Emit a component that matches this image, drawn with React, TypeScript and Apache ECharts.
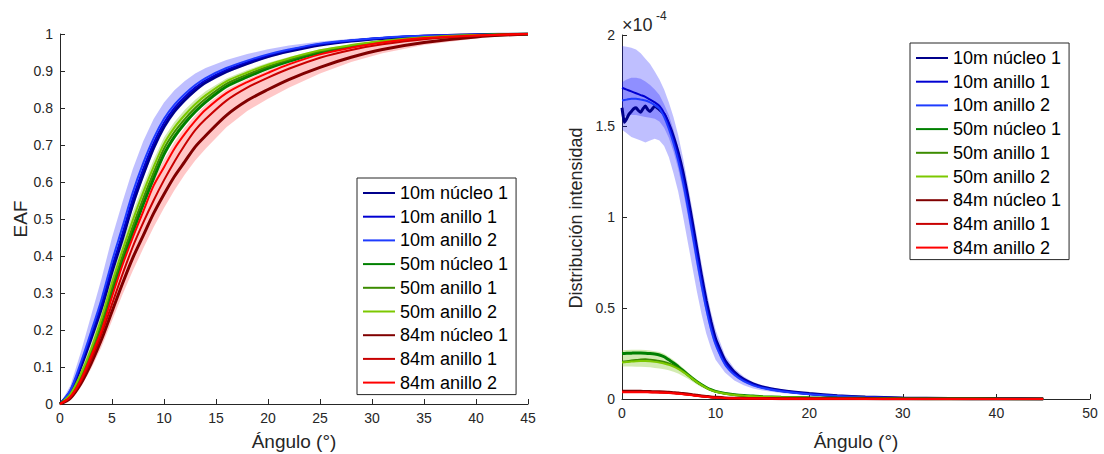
import React, { useEffect, useRef } from "react";
import * as echarts from "echarts";

// ---------- shared ----------
const NAMES = [
  "10m núcleo 1", "10m anillo 1", "10m anillo 2",
  "50m núcleo 1", "50m anillo 1", "50m anillo 2",
  "84m núcleo 1", "84m anillo 1", "84m anillo 2",
];
const COLORS = ["#00008B", "#0000D2", "#1E3CFF", "#008000", "#3C8C00", "#7CC800", "#800000", "#C80000", "#FF0000"];
const WIDTHS = [3, 2, 2, 3, 2, 2, 3, 2, 2];

// ---------- left chart: EAF ----------
const EAF_X_TICKS = [0, 45, 5];
const EAF_Y_TICKS = [0, 1, 0.1];
const EAF_ANGLES = [0, 1, 2, 3, 4, 5, 6, 7, 8, 9, 10, 11, 12, 13, 14, 16, 18, 20, 22, 25, 28, 31, 35, 40, 45];
const EAF_10N1 = [0, 0.033, 0.1, 0.177, 0.26, 0.357, 0.446, 0.54, 0.62, 0.692, 0.749, 0.791, 0.822, 0.848, 0.869, 0.898, 0.92, 0.939, 0.953, 0.97, 0.981, 0.988, 0.994, 0.998, 1];
const EAF_10A1 = [0, 0.035, 0.105, 0.185, 0.27, 0.37, 0.46, 0.555, 0.635, 0.705, 0.76, 0.8, 0.83, 0.855, 0.875, 0.903, 0.924, 0.942, 0.956, 0.972, 0.982, 0.989, 0.995, 0.998, 1];
const EAF_10A2 = [0, 0.038, 0.112, 0.196, 0.284, 0.386, 0.478, 0.572, 0.651, 0.718, 0.771, 0.809, 0.838, 0.862, 0.881, 0.908, 0.928, 0.945, 0.958, 0.974, 0.983, 0.99, 0.995, 0.998, 1];
const EAF_50N1 = [0, 0.023, 0.07, 0.132, 0.209, 0.3, 0.388, 0.465, 0.54, 0.61, 0.675, 0.722, 0.759, 0.79, 0.816, 0.858, 0.884, 0.907, 0.926, 0.95, 0.966, 0.979, 0.989, 0.996, 1];
const EAF_50A1 = [0, 0.025, 0.075, 0.14, 0.22, 0.315, 0.4, 0.48, 0.555, 0.625, 0.69, 0.735, 0.77, 0.8, 0.825, 0.865, 0.89, 0.912, 0.93, 0.953, 0.968, 0.98, 0.99, 0.996, 1];
const EAF_50A2 = [0, 0.027, 0.081, 0.15, 0.233, 0.328, 0.415, 0.497, 0.572, 0.641, 0.703, 0.747, 0.781, 0.81, 0.834, 0.872, 0.896, 0.917, 0.934, 0.956, 0.97, 0.981, 0.991, 0.997, 1];
const EAF_84N1 = [0, 0.016, 0.055, 0.11, 0.175, 0.25, 0.325, 0.395, 0.455, 0.515, 0.567, 0.615, 0.655, 0.695, 0.725, 0.78, 0.82, 0.85, 0.877, 0.91, 0.937, 0.958, 0.977, 0.992, 1];
const EAF_84A1 = [0, 0.018, 0.06, 0.12, 0.19, 0.27, 0.35, 0.425, 0.49, 0.55, 0.605, 0.655, 0.7, 0.74, 0.77, 0.82, 0.855, 0.882, 0.906, 0.936, 0.957, 0.972, 0.986, 0.995, 1];
const EAF_84A2 = [0, 0.02, 0.065, 0.13, 0.2, 0.29, 0.375, 0.45, 0.52, 0.59, 0.64, 0.69, 0.73, 0.765, 0.795, 0.84, 0.87, 0.895, 0.918, 0.945, 0.963, 0.977, 0.989, 0.996, 1];
// shaded bands
const EAF_10_UP = [0, 0.05, 0.14, 0.24, 0.34, 0.45, 0.545, 0.635, 0.71, 0.77, 0.815, 0.848, 0.873, 0.893, 0.908, 0.93, 0.946, 0.959, 0.969, 0.98, 0.987, 0.992, 0.996, 0.999, 1];
const EAF_10_LO = [0, 0.03, 0.095, 0.17, 0.252, 0.348, 0.437, 0.53, 0.61, 0.683, 0.741, 0.784, 0.816, 0.843, 0.864, 0.894, 0.917, 0.936, 0.951, 0.968, 0.979, 0.987, 0.993, 0.997, 1];
const EAF_50_UP = [0, 0.03, 0.09, 0.163, 0.25, 0.345, 0.435, 0.518, 0.592, 0.66, 0.72, 0.762, 0.795, 0.822, 0.845, 0.88, 0.903, 0.922, 0.938, 0.959, 0.972, 0.983, 0.992, 0.997, 1];
const EAF_50_LO = [0, 0.022, 0.068, 0.128, 0.203, 0.293, 0.381, 0.458, 0.533, 0.603, 0.668, 0.716, 0.753, 0.785, 0.811, 0.853, 0.88, 0.904, 0.923, 0.948, 0.965, 0.978, 0.989, 0.996, 1];
const EAF_84_UP = [0, 0.024, 0.075, 0.145, 0.22, 0.31, 0.395, 0.47, 0.54, 0.608, 0.66, 0.708, 0.747, 0.78, 0.808, 0.85, 0.878, 0.902, 0.923, 0.948, 0.965, 0.978, 0.989, 0.996, 1];
const EAF_84_LO = [0, 0.012, 0.045, 0.095, 0.155, 0.225, 0.295, 0.36, 0.42, 0.478, 0.53, 0.578, 0.62, 0.658, 0.69, 0.748, 0.792, 0.825, 0.855, 0.893, 0.924, 0.948, 0.97, 0.988, 1];

// ---------- right chart: intensity distribution (x 1e-4) ----------
const INT_X_TICKS = [0, 50, 10];
const INT_Y_TICKS = [0, 2, 0.5];
const INT_ANGLES = [0, 0.5, 1, 1.5, 2, 2.5, 3, 3.5, 4, 4.5, 5, 5.5, 6, 6.5, 7, 7.5, 8, 8.5, 9, 9.5, 10, 11, 12, 13, 14, 15, 17, 20, 23, 26, 30, 35, 40, 45];
const INT_N1_ANGLES = [0, 0.25, 0.5, 0.75, 1, 1.25, 1.5, 1.75, 2, 2.25, 2.5, 2.75, 3, 3.25, 3.5, 3.75, 4, 4.5, 5, 5.5, 6, 6.5, 7, 7.5, 8, 8.5, 9, 9.5, 10, 11, 12, 13, 14, 15, 17, 20, 23, 26, 30, 35, 40, 45];
const INT_10N1 = [1.6, 1.52, 1.54, 1.565, 1.58, 1.595, 1.6, 1.585, 1.575, 1.595, 1.61, 1.59, 1.58, 1.595, 1.61, 1.6, 1.59, 1.565, 1.51, 1.44, 1.355, 1.25, 1.12, 0.975, 0.825, 0.675, 0.54, 0.425, 0.33, 0.212, 0.148, 0.108, 0.083, 0.066, 0.047, 0.03, 0.018, 0.011, 0.0055, 0.0025, 0.0012, 0.0006];
const INT_10A1 = [1.71, 1.7, 1.69, 1.68, 1.67, 1.66, 1.645, 1.63, 1.61, 1.57, 1.51, 1.43, 1.34, 1.23, 1.1, 0.955, 0.805, 0.66, 0.525, 0.41, 0.32, 0.205, 0.143, 0.105, 0.08, 0.064, 0.045, 0.028, 0.017, 0.01, 0.005, 0.002, 0.001, 0.0005];
const INT_10A2 = [1.64, 1.645, 1.65, 1.65, 1.645, 1.64, 1.63, 1.615, 1.595, 1.55, 1.485, 1.405, 1.31, 1.195, 1.06, 0.915, 0.765, 0.625, 0.495, 0.385, 0.3, 0.19, 0.133, 0.098, 0.075, 0.06, 0.042, 0.026, 0.016, 0.009, 0.0045, 0.002, 0.001, 0.0005];
const INT_50N1 = [0.25, 0.251, 0.252, 0.253, 0.253, 0.252, 0.25, 0.247, 0.242, 0.232, 0.215, 0.198, 0.178, 0.157, 0.135, 0.114, 0.095, 0.078, 0.063, 0.051, 0.042, 0.031, 0.024, 0.019, 0.016, 0.013, 0.01, 0.007, 0.005, 0.0035, 0.0022, 0.0012, 0.0007, 0.0004];
const INT_50A1 = [0.205, 0.208, 0.211, 0.214, 0.217, 0.218, 0.216, 0.213, 0.209, 0.203, 0.195, 0.184, 0.17, 0.153, 0.134, 0.114, 0.094, 0.077, 0.062, 0.05, 0.041, 0.03, 0.023, 0.018, 0.015, 0.013, 0.01, 0.007, 0.005, 0.0035, 0.0022, 0.0012, 0.0007, 0.0004];
const INT_50A2 = [0.2, 0.203, 0.206, 0.208, 0.209, 0.209, 0.207, 0.204, 0.2, 0.195, 0.188, 0.178, 0.165, 0.149, 0.131, 0.112, 0.093, 0.076, 0.061, 0.049, 0.04, 0.029, 0.022, 0.018, 0.015, 0.012, 0.009, 0.0065, 0.0045, 0.003, 0.002, 0.001, 0.0006, 0.0003];
const INT_84N1 = [0.042, 0.042, 0.042, 0.042, 0.042, 0.041, 0.041, 0.04, 0.04, 0.039, 0.037, 0.035, 0.033, 0.03, 0.027, 0.024, 0.02, 0.017, 0.014, 0.011, 0.009, 0.006, 0.0045, 0.0037, 0.003, 0.0026, 0.002, 0.0015, 0.0011, 0.0008, 0.0005, 0.0003, 0.0002, 0.0001];
const INT_84A1 = [0.039, 0.039, 0.039, 0.039, 0.039, 0.039, 0.038, 0.038, 0.037, 0.036, 0.035, 0.033, 0.031, 0.028, 0.025, 0.022, 0.019, 0.016, 0.013, 0.01, 0.008, 0.0055, 0.0042, 0.0034, 0.0028, 0.0024, 0.0018, 0.0013, 0.001, 0.0007, 0.0005, 0.0003, 0.0002, 0.0001];
const INT_84A2 = [0.037, 0.037, 0.037, 0.037, 0.037, 0.037, 0.036, 0.036, 0.035, 0.034, 0.033, 0.031, 0.029, 0.026, 0.023, 0.02, 0.017, 0.014, 0.012, 0.0095, 0.0075, 0.0052, 0.004, 0.0032, 0.0027, 0.0023, 0.0017, 0.0012, 0.0009, 0.0006, 0.0004, 0.0003, 0.0002, 0.0001];
// shaded bands
const INT_10N_UP = [1.94, 1.935, 1.93, 1.92, 1.9, 1.87, 1.84, 1.8, 1.755, 1.7, 1.63, 1.55, 1.45, 1.33, 1.19, 1.045, 0.895, 0.745, 0.605, 0.48, 0.38, 0.24, 0.168, 0.123, 0.094, 0.075, 0.053, 0.034, 0.021, 0.013, 0.0065, 0.003, 0.0015, 0.001];
const INT_10N_LO = [1.48, 1.46, 1.44, 1.43, 1.42, 1.41, 1.42, 1.43, 1.42, 1.39, 1.33, 1.24, 1.14, 1.01, 0.87, 0.73, 0.59, 0.465, 0.36, 0.28, 0.215, 0.145, 0.102, 0.076, 0.058, 0.047, 0.033, 0.02, 0.012, 0.007, 0.003, 0.001, 0.0005, 0];
const INT_10A_UP = [1.74, 1.755, 1.765, 1.765, 1.76, 1.745, 1.725, 1.7, 1.67, 1.62, 1.56, 1.48, 1.385, 1.265, 1.13, 0.985, 0.835, 0.69, 0.555, 0.435, 0.34, 0.218, 0.152, 0.112, 0.085, 0.068, 0.048, 0.03, 0.018, 0.011, 0.0055, 0.0025, 0.0012, 0.0006];
const INT_10A_LO = [1.55, 1.555, 1.56, 1.56, 1.555, 1.55, 1.545, 1.54, 1.525, 1.49, 1.435, 1.36, 1.265, 1.15, 1.015, 0.87, 0.725, 0.59, 0.47, 0.365, 0.283, 0.18, 0.125, 0.092, 0.07, 0.056, 0.039, 0.024, 0.014, 0.008, 0.004, 0.0018, 0.0009, 0.0004];
const INT_50_UP = [0.268, 0.269, 0.27, 0.27, 0.27, 0.269, 0.267, 0.263, 0.258, 0.248, 0.232, 0.214, 0.194, 0.172, 0.149, 0.127, 0.106, 0.087, 0.071, 0.057, 0.046, 0.034, 0.026, 0.021, 0.017, 0.014, 0.011, 0.008, 0.0055, 0.004, 0.0025, 0.0014, 0.0008, 0.0004];
const INT_50_LO = [0.178, 0.178, 0.178, 0.177, 0.177, 0.176, 0.174, 0.171, 0.168, 0.164, 0.158, 0.15, 0.14, 0.127, 0.112, 0.096, 0.08, 0.065, 0.053, 0.043, 0.035, 0.025, 0.019, 0.015, 0.013, 0.011, 0.008, 0.0055, 0.0038, 0.0026, 0.0016, 0.0009, 0.0005, 0.0002];
const INT_84_UP = [0.046, 0.046, 0.046, 0.046, 0.046, 0.045, 0.045, 0.044, 0.044, 0.043, 0.041, 0.039, 0.037, 0.034, 0.031, 0.027, 0.023, 0.02, 0.016, 0.013, 0.011, 0.0075, 0.0055, 0.0045, 0.0037, 0.0031, 0.0024, 0.0018, 0.0013, 0.001, 0.0006, 0.0004, 0.0002, 0.0001];
const INT_84_LO = [0.033, 0.033, 0.033, 0.033, 0.033, 0.033, 0.032, 0.032, 0.031, 0.03, 0.029, 0.027, 0.025, 0.022, 0.019, 0.017, 0.014, 0.012, 0.01, 0.008, 0.006, 0.004, 0.003, 0.0025, 0.002, 0.0018, 0.0013, 0.0009, 0.0007, 0.0005, 0.0003, 0.0002, 0.0001, 0];

const FONT = '"Liberation Sans", Arial, Helvetica, sans-serif';
const AXIS_COLOR = "#262626";

function pairs(xs: number[], ys: number[]) {
  return xs.map((x, i) => [x, ys[i]]);
}

function lineSeries(name: string, idx: number, xs: number[], ys: number[], axis: number, smooth: number) {
  return {
    type: "line",
    name,
    data: pairs(xs, ys),
    xAxisIndex: axis,
    yAxisIndex: axis,
    symbol: "none",
    showSymbol: false,
    smooth,
    z: 3,
    lineStyle: { color: COLORS[idx], width: WIDTHS[idx] },
    itemStyle: { color: COLORS[idx] },
    silent: true,
  };
}

// shaded band drawn as one polygon through the axes' own coordinate mapping
function bandSeries(id: string, xs: number[], lo: number[], up: number[], color: string, axis: number) {
  return {
    type: "custom",
    name: id,
    coordinateSystem: "cartesian2d",
    xAxisIndex: axis,
    yAxisIndex: axis,
    data: xs.map((x, i) => [x, lo[i], up[i]]),
    encode: { x: 0, y: [1, 2] },
    silent: true,
    clip: true,
    z: 1,
    renderItem: (params: any, api: any) => {
      if (params.dataIndex !== 0) return null;
      const top = xs.map((x, i) => api.coord([x, up[i]]));
      const bot = xs.map((x, i) => api.coord([x, lo[i]])).reverse();
      return {
        type: "polygon",
        shape: { points: top.concat(bot) },
        style: { fill: color, stroke: null },
      };
    },
  };
}

function axisCommon() {
  return {
    axisLine: { show: true, onZero: false, lineStyle: { color: AXIS_COLOR, width: 1 } },
    axisTick: { show: true, inside: true, length: 5, lineStyle: { color: AXIS_COLOR, width: 1 } },
    axisLabel: { color: AXIS_COLOR, fontSize: 14, fontFamily: FONT, margin: 7 },
    splitLine: { show: false },
  };
}

function legendOpt(left: number, top: number) {
  return {
    show: true,
    orient: "vertical",
    left,
    top,
    data: NAMES,
    selectedMode: false,
    itemWidth: 32,
    itemHeight: 20,
    itemGap: 3.7,
    padding: [5, 8, 2, 5],
    backgroundColor: "#ffffff",
    borderColor: AXIS_COLOR,
    borderWidth: 1,
    borderRadius: 0,
    itemStyle: { color: "rgba(0,0,0,0)", borderWidth: 0, opacity: 0 },
    textStyle: { color: "#000", fontSize: 18, fontFamily: FONT, lineHeight: 20 },
  };
}

export default function App() {
  const ref = useRef<HTMLDivElement>(null);

  useEffect(() => {
    if (!ref.current) return;
    const chart = echarts.init(ref.current, undefined, { renderer: "svg" });

    const leftLines = [EAF_10N1, EAF_10A1, EAF_10A2, EAF_50N1, EAF_50A1, EAF_50A2, EAF_84N1, EAF_84A1, EAF_84A2];
    const rightLines = [INT_10N1, INT_10A1, INT_10A2, INT_50N1, INT_50A1, INT_50A2, INT_84N1, INT_84A1, INT_84A2];

    const series: any[] = [
      bandSeries("lb10", EAF_ANGLES, EAF_10_LO, EAF_10_UP, "rgba(0,0,255,0.25)", 0),
      bandSeries("lb50", EAF_ANGLES, EAF_50_LO, EAF_50_UP, "rgba(110,190,0,0.32)", 0),
      bandSeries("lb84", EAF_ANGLES, EAF_84_LO, EAF_84_UP, "rgba(255,0,0,0.22)", 0),
      bandSeries("rb10n", INT_ANGLES, INT_10N_LO, INT_10N_UP, "rgba(0,0,255,0.25)", 1),
      bandSeries("rb10a", INT_ANGLES, INT_10A_LO, INT_10A_UP, "rgba(0,0,255,0.25)", 1),
      bandSeries("rb50", INT_ANGLES, INT_50_LO, INT_50_UP, "rgba(110,190,0,0.3)", 1),
      bandSeries("rb84", INT_ANGLES, INT_84_LO, INT_84_UP, "rgba(255,0,0,0.25)", 1),
    ];
    leftLines.forEach((ys, i) => series.push(lineSeries(NAMES[i], i, EAF_ANGLES, ys, 0, 0.3)));
    rightLines.forEach((ys, i) =>
      series.push(lineSeries(NAMES[i], i, i === 0 ? INT_N1_ANGLES : INT_ANGLES, ys, 1, i === 0 ? 0.15 : 0.25))
    );

    const option: any = {
      animation: false,
      backgroundColor: "#ffffff",
      textStyle: { fontFamily: FONT },
      grid: [
        { left: 60, top: 34, width: 468, height: 370, outerBoundsMode: "none", containLabel: false },
        { left: 622, top: 35, width: 468, height: 364, outerBoundsMode: "none", containLabel: false },
      ],
      xAxis: [
        { type: "value", gridIndex: 0, min: EAF_X_TICKS[0], max: EAF_X_TICKS[1], interval: EAF_X_TICKS[2], ...axisCommon() },
        { type: "value", gridIndex: 1, min: INT_X_TICKS[0], max: INT_X_TICKS[1], interval: INT_X_TICKS[2], ...axisCommon() },
      ],
      yAxis: [
        { type: "value", gridIndex: 0, min: EAF_Y_TICKS[0], max: EAF_Y_TICKS[1], interval: EAF_Y_TICKS[2], ...axisCommon() },
        { type: "value", gridIndex: 1, min: INT_Y_TICKS[0], max: INT_Y_TICKS[1], interval: INT_Y_TICKS[2], ...axisCommon() },
      ],
      legend: [legendOpt(357, 178), legendOpt(910, 43)],
      graphic: [
        { type: "text", x: 20, y: 219, rotation: Math.PI / 2, style: { text: "EAF", font: `19px ${FONT}`, fill: AXIS_COLOR, align: "center", verticalAlign: "middle" } },
        { type: "text", x: 294, y: 441, style: { text: "Ángulo (°)", font: `19px ${FONT}`, fill: AXIS_COLOR, align: "center", verticalAlign: "middle" } },
        { type: "text", x: 576, y: 218, rotation: Math.PI / 2, style: { text: "Distribución intensidad", font: `18px ${FONT}`, fill: AXIS_COLOR, align: "center", verticalAlign: "middle" } },
        { type: "text", x: 856, y: 441, style: { text: "Ángulo (°)", font: `19px ${FONT}`, fill: AXIS_COLOR, align: "center", verticalAlign: "middle" } },
        { type: "text", x: 622, y: 34, style: { text: "×10", font: `18px ${FONT}`, fill: AXIS_COLOR, align: "left", verticalAlign: "bottom" } },
        { type: "text", x: 656, y: 22, style: { text: "-4", font: `12px ${FONT}`, fill: AXIS_COLOR, align: "left", verticalAlign: "bottom" } },
      ],
      series,
    };
    chart.setOption(option);
    return () => chart.dispose();
  }, []);

  return <div ref={ref} style={{ position: "absolute", left: 0, top: 0, width: 1104, height: 454 }} />;
}
